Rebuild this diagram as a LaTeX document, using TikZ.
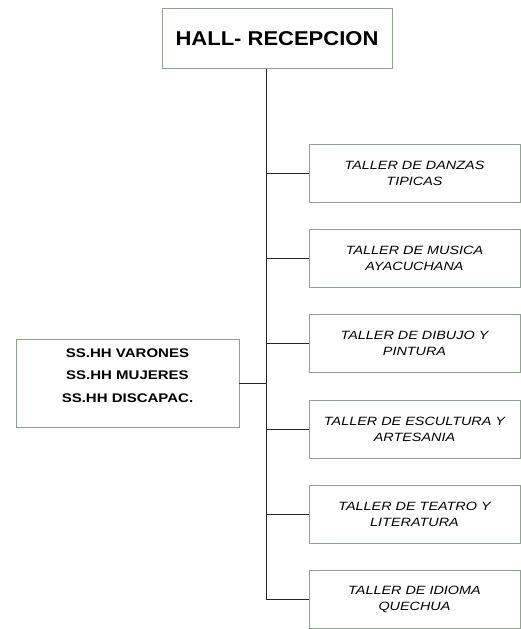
\documentclass[tikz,border=0pt]{standalone}
\usepackage{fontspec}
\setmainfont{Liberation Sans}
\newfontfamily\widesans[FakeStretch=1.1]{Liberation Sans}
\newfontfamily\widersans[FakeStretch=1.2]{Liberation Sans}
\definecolor{boxgreen}{RGB}{140,165,140}
\begin{document}
\begin{tikzpicture}[x=1pt,y=1pt,
  boxline/.style={draw=boxgreen, line width=0.9pt},
  hallbox/.style={boxline, minimum width=230pt, minimum height=60pt, inner sep=0pt,
    font=\widesans\fontsize{20}{22}\selectfont\bfseries},
  tallerbox/.style={boxline, minimum width=211pt, minimum height=58pt, inner sep=0pt,
    align=center, font=\widersans\fontsize{12}{16}\selectfont\itshape},
  ssbox/.style={boxline, minimum width=223pt, minimum height=88pt, inner sep=0pt,
    align=center, font=\widersans\fontsize{12.5}{22.5}\selectfont\bfseries},
  link/.style={draw=black!85, line width=0.9pt}
]
\useasboundingbox (0,0) rectangle (521,-629);
\node[hallbox] (hall) at (277,-38.5) {\raisebox{-1.5pt}{HALL- RECEPCION}};
\coordinate (tb) at (266,-599);
\node[tallerbox] (r1) at (414.5,-173.5) {TALLER DE DANZAS\\TIPICAS};
\node[tallerbox] (r2) at (414.5,-258) {TALLER DE MUSICA\\AYACUCHANA};
\node[tallerbox] (r3) at (414.5,-343) {TALLER DE DIBUJO Y\\PINTURA};
\node[tallerbox] (r4) at (414.5,-429) {TALLER DE ESCULTURA Y\\ARTESANIA};
\node[tallerbox] (r5) at (414.5,-514) {TALLER DE TEATRO Y\\LITERATURA};
\node[tallerbox] (r6) at (414.5,-599) {TALLER DE IDIOMA\\QUECHUA};
\node[ssbox] (ss) at (127.5,-383) {SS.HH VARONES\\SS.HH MUJERES\\SS.HH DISCAPAC.\\[-7pt]};
\draw[link] (hall.south -| tb) -- (tb);
\foreach \n in {r1,r2,r3,r4,r5,r6} \draw[link] (\n.west) -- (\n.west -| tb);
\draw[link] (ss.east) -- (ss.east -| tb);
\end{tikzpicture}
\end{document}
